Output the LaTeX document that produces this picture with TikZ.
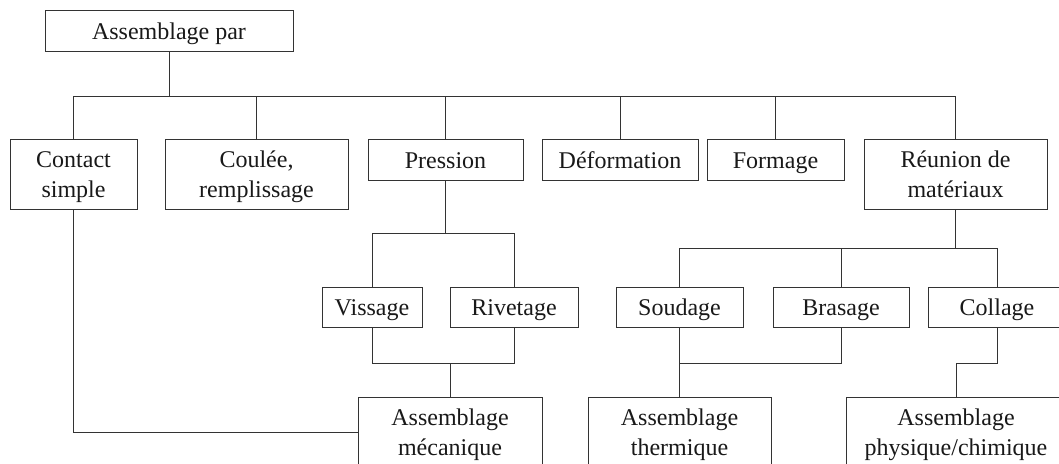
\documentclass[tikz,border=0pt]{standalone}
\usepackage{fontspec}
\setmainfont{Liberation Serif}
\begin{document}
\begin{tikzpicture}[x=1pt,y=-1pt,
  box/.style={draw=black!80, line width=1pt, rectangle, inner sep=0pt, align=center,
    font=\fontsize{24}{30}\selectfont, text=black!90},
  one/.style={box, minimum height=41pt, text height=22pt, text depth=5pt},
  two/.style={box, minimum height=70pt, text height=52pt, text depth=5pt},
  con/.style={draw=black!80, line width=1pt}]
\useasboundingbox (0,0) rectangle (1059,463);
\clip (0,0) rectangle (1059,463);
\fill[white] (0,0) rectangle (1059,463);
% nodes
\node[one, minimum width=248pt] (top) at (169,30.5) {Assemblage par};
\node[two, minimum width=127pt] (contact) at (73.5,174) {Contact\\simple};
\node[two, minimum width=183pt] (coulee) at (256.5,174) {Coulée,\\remplissage};
\node[one, minimum width=155pt] (pression) at (445.5,159.5) {Pression};
\node[one, minimum width=156pt] (deform) at (620,159.5) {Déformation};
\node[one, minimum width=137pt] (formage) at (775.5,159.5) {Formage};
\node[two, minimum width=183pt] (reunion) at (955.5,174) {Réunion de\\matériaux};
\node[one, minimum height=40pt, minimum width=100pt] (vissage) at (372,307) {Vissage};
\node[one, minimum height=40pt, minimum width=128pt] (rivetage) at (514,307) {Rivetage};
\node[one, minimum height=40pt, minimum width=127pt] (soudage) at (679.5,307) {Soudage};
\node[one, minimum height=40pt, minimum width=136pt] (brasage) at (841,307) {Brasage};
\node[one, minimum height=40pt, minimum width=138pt] (collage) at (997,307) {Collage};
\node[two, minimum width=184pt] (meca) at (450,432) {Assemblage\\mécanique};
\node[two, minimum width=183pt] (therm) at (679.5,432) {Assemblage\\thermique};
\node[two, minimum width=220pt] (phys) at (956,432) {Assemblage\\physique/chimique};
% levels
\coordinate (ya) at (0,96);
\coordinate (yb) at (0,233);
\coordinate (yc) at (0,363);
\coordinate (yd) at (0,248);
% top bus
\draw[con] (top.south) -- (top.south |- ya);
\draw[con] (contact.north |- ya) -- (reunion.north |- ya);
\foreach \n in {contact,coulee,pression,deform,formage,reunion}
  \draw[con] (\n.north) -- (\n.north |- ya);
% pression branch
\draw[con] (pression.south) -- (pression.south |- yb);
\draw[con] (vissage.north) -- (vissage.north |- yb) -- (rivetage.north |- yb) -- (rivetage.north);
\draw[con] (vissage.south) -- (vissage.south |- yc) -- (rivetage.south |- yc) -- (rivetage.south);
\draw[con] (meca.north) -- (meca.north |- yc);
\draw[con] (contact.south) |- (meca.west);
% reunion branch
\draw[con] (reunion.south) -- (reunion.south |- yd);
\draw[con] (soudage.north |- yd) -- (collage.north |- yd);
\foreach \n in {soudage,brasage,collage}
  \draw[con] (\n.north) -- (\n.north |- yd);
\draw[con] (soudage.south) -- (therm.north);
\draw[con] (soudage.south |- yc) -- (brasage.south |- yc) -- (brasage.south);
\draw[con] (collage.south) -- (collage.south |- yc) -| (phys.north);
\end{tikzpicture}
\end{document}
